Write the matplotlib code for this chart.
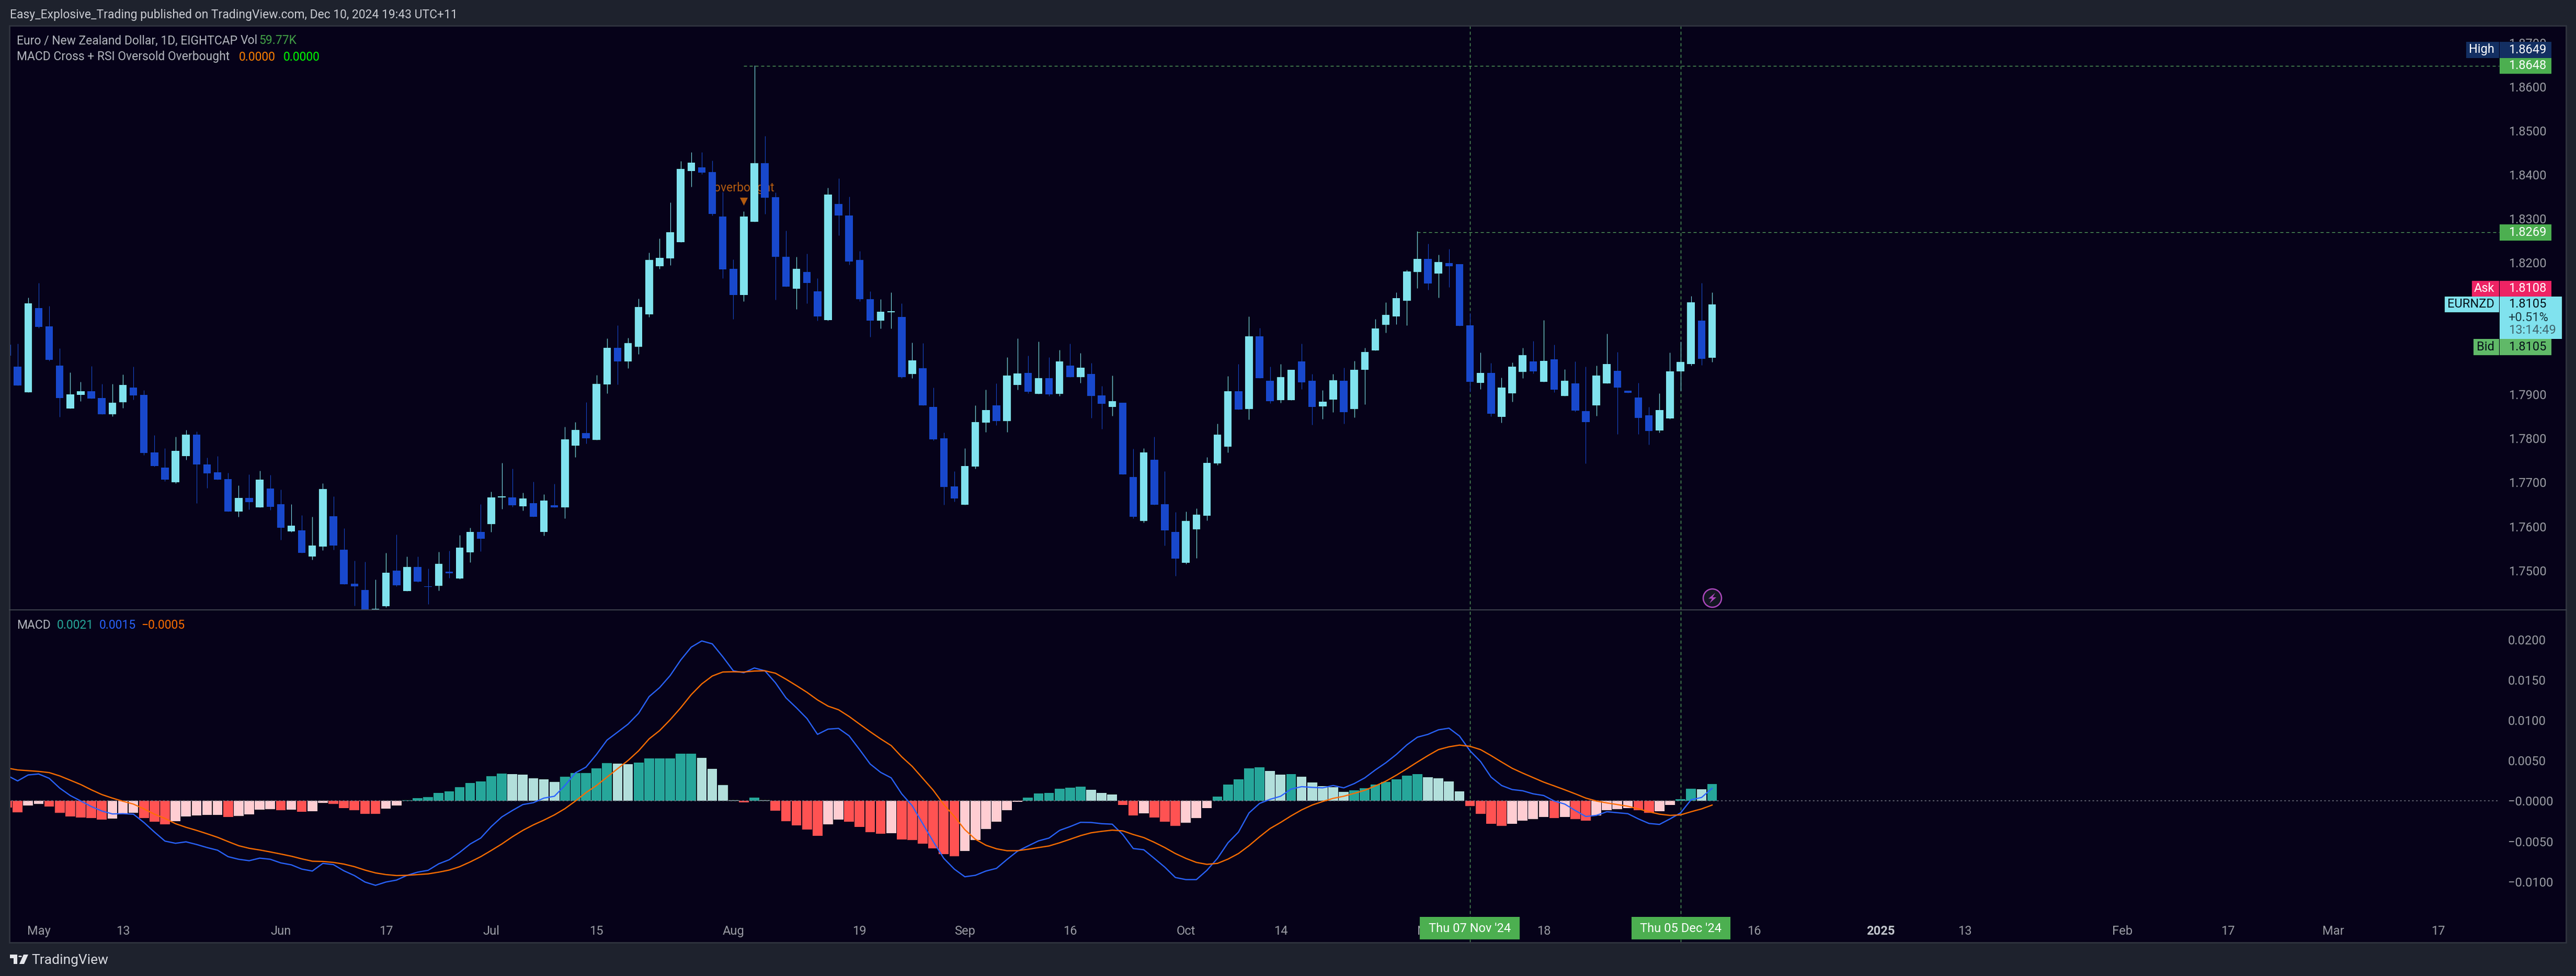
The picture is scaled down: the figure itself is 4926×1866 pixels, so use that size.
import matplotlib
matplotlib.use("Agg")
import matplotlib.pyplot as plt
import numpy as np
from matplotlib.patches import Rectangle, Polygon, Circle
from matplotlib.path import Path

plt.rcParams["font.family"] = ["Roboto", "DejaVu Sans"]

# daily EURNZD candles
opens = [
    1.8014, 1.7963, 1.7905, 1.8097, 1.8055, 1.7966, 1.7868, 1.7899, 1.7908, 1.7892,
    1.7855, 1.7883, 1.7916, 1.7899, 1.7769, 1.7734, 1.7700, 1.7760, 1.7809, 1.7741,
    1.7723, 1.7708, 1.7634, 1.7665, 1.7644, 1.7686, 1.7650, 1.7589, 1.7591, 1.7531,
    1.7554, 1.7623, 1.7547, 1.7470, 1.7456, 1.7405, 1.7418, 1.7500, 1.7453, 1.7508,
    1.7464, 1.7465, 1.7497, 1.7482, 1.7541, 1.7587, 1.7605, 1.7666, 1.7666, 1.7646,
    1.7653, 1.7587, 1.7648, 1.7644, 1.7784, 1.7812, 1.7797, 1.7923, 1.8006, 1.7976,
    1.8009, 1.8083, 1.8192, 1.8210, 1.8247, 1.8409, 1.8417, 1.8406, 1.8305, 1.8186,
    1.8127, 1.8293, 1.8427, 1.8349, 1.8213, 1.8141, 1.8179, 1.8135, 1.8070, 1.8334,
    1.8308, 1.8206, 1.8117, 1.8068, 1.8087, 1.8077, 1.7947, 1.7960, 1.7872, 1.7800,
    1.7691, 1.7649, 1.7736, 1.7836, 1.7876, 1.7840, 1.7922, 1.7949, 1.7902, 1.7937,
    1.7902, 1.7966, 1.7940, 1.7947, 1.7898, 1.7872, 1.7882, 1.7712, 1.7613, 1.7752,
    1.7651, 1.7587, 1.7517, 1.7593, 1.7625, 1.7744, 1.7782, 1.7908, 1.7867, 1.8033,
    1.7931, 1.7887, 1.7887, 1.7975, 1.7931, 1.7873, 1.7889, 1.7931, 1.7867, 1.7957,
    1.8001, 1.8059, 1.8078, 1.8114, 1.8179, 1.8209, 1.8176, 1.8199, 1.8197, 1.8058,
    1.7927, 1.7949, 1.7849, 1.7903, 1.7952, 1.7975, 1.7929, 1.7980, 1.7897, 1.7925,
    1.7862, 1.7875, 1.7925, 1.7954, 1.7909, 1.7893, 1.7853, 1.7818, 1.7846, 1.7953,
    1.7970, 1.8068, 1.7984,
]
closes = [
    1.7989, 1.7921, 1.8107, 1.8054, 1.7979, 1.7892, 1.7900, 1.7908, 1.7891, 1.7855,
    1.7882, 1.7922, 1.7898, 1.7767, 1.7738, 1.7706, 1.7772, 1.7809, 1.7741, 1.7721,
    1.7707, 1.7634, 1.7665, 1.7655, 1.7707, 1.7645, 1.7597, 1.7602, 1.7540, 1.7556,
    1.7685, 1.7557, 1.7468, 1.7464, 1.7405, 1.7412, 1.7495, 1.7466, 1.7508, 1.7475,
    1.7463, 1.7515, 1.7493, 1.7552, 1.7587, 1.7572, 1.7666, 1.7668, 1.7648, 1.7664,
    1.7622, 1.7659, 1.7644, 1.7798, 1.7819, 1.7801, 1.7924, 1.8006, 1.7976, 1.8017,
    1.8099, 1.8206, 1.8211, 1.8269, 1.8413, 1.8428, 1.8405, 1.8311, 1.8185, 1.8127,
    1.8305, 1.8427, 1.8348, 1.8213, 1.8146, 1.8186, 1.8154, 1.8078, 1.8355, 1.8307,
    1.8203, 1.8117, 1.8068, 1.8089, 1.8090, 1.7940, 1.7978, 1.7875, 1.7798, 1.7690,
    1.7664, 1.7738, 1.7838, 1.7865, 1.7840, 1.7943, 1.7948, 1.7907, 1.7937, 1.7901,
    1.7975, 1.7940, 1.7961, 1.7897, 1.7879, 1.7885, 1.7718, 1.7622, 1.7768, 1.7649,
    1.7591, 1.7527, 1.7613, 1.7627, 1.7745, 1.7809, 1.7908, 1.7866, 1.8033, 1.7937,
    1.7885, 1.7940, 1.7957, 1.7928, 1.7872, 1.7884, 1.7933, 1.7860, 1.7957, 1.7997,
    1.8050, 1.8081, 1.8120, 1.8180, 1.8209, 1.8153, 1.8202, 1.8192, 1.8056, 1.7929,
    1.7949, 1.7857, 1.7916, 1.7963, 1.7990, 1.7953, 1.7977, 1.7911, 1.7931, 1.7864,
    1.7838, 1.7943, 1.7969, 1.7916, 1.7904, 1.7847, 1.7817, 1.7865, 1.7953, 1.7974,
    1.8110, 1.7981, 1.8105,
]
highs = [
    1.8020, 1.8016, 1.8121, 1.8154, 1.8102, 1.8005, 1.7951, 1.7929, 1.7965, 1.7924,
    1.7924, 1.7946, 1.7963, 1.7910, 1.7808, 1.7778, 1.7804, 1.7820, 1.7816, 1.7756,
    1.7760, 1.7722, 1.7693, 1.7718, 1.7727, 1.7717, 1.7684, 1.7650, 1.7626, 1.7622,
    1.7698, 1.7668, 1.7596, 1.7522, 1.7520, 1.7479, 1.7540, 1.7582, 1.7532, 1.7532,
    1.7504, 1.7542, 1.7545, 1.7580, 1.7597, 1.7651, 1.7679, 1.7745, 1.7731, 1.7677,
    1.7702, 1.7673, 1.7697, 1.7827, 1.7837, 1.7883, 1.7945, 1.8028, 1.8058, 1.8029,
    1.8118, 1.8223, 1.8255, 1.8337, 1.8431, 1.8451, 1.8452, 1.8433, 1.8361, 1.8208,
    1.8317, 1.8649, 1.8488, 1.8360, 1.8273, 1.8213, 1.8221, 1.8165, 1.8371, 1.8392,
    1.8350, 1.8226, 1.8135, 1.8117, 1.8133, 1.8108, 1.8018, 1.8017, 1.7916, 1.7814,
    1.7726, 1.7778, 1.7875, 1.7911, 1.7925, 1.7985, 1.8028, 1.7989, 1.8021, 1.7985,
    1.8002, 1.8016, 1.7994, 1.7972, 1.7920, 1.7943, 1.7882, 1.7777, 1.7778, 1.7804,
    1.7725, 1.7633, 1.7634, 1.7641, 1.7758, 1.7834, 1.7942, 1.7969, 1.8078, 1.8052,
    1.7963, 1.7969, 1.7957, 1.8016, 1.7947, 1.7910, 1.7947, 1.7961, 1.7977, 1.8007,
    1.8072, 1.8110, 1.8132, 1.8184, 1.8272, 1.8243, 1.8218, 1.8231, 1.8197, 1.8085,
    1.7996, 1.7972, 1.7939, 1.7973, 1.8007, 1.8022, 1.8070, 1.8014, 1.7958, 1.7975,
    1.7963, 1.7966, 1.8039, 1.7997, 1.7909, 1.7927, 1.7872, 1.7903, 1.7996, 1.8021,
    1.8124, 1.8154, 1.8133,
]
lows = [
    1.7985, 1.7921, 1.7905, 1.8052, 1.7977, 1.7849, 1.7868, 1.7885, 1.7891, 1.7855,
    1.7851, 1.7869, 1.7889, 1.7763, 1.7736, 1.7703, 1.7698, 1.7752, 1.7653, 1.7687,
    1.7707, 1.7634, 1.7622, 1.7639, 1.7644, 1.7638, 1.7570, 1.7587, 1.7540, 1.7524,
    1.7546, 1.7547, 1.7468, 1.7420, 1.7405, 1.7400, 1.7416, 1.7464, 1.7453, 1.7473,
    1.7423, 1.7454, 1.7483, 1.7481, 1.7519, 1.7544, 1.7588, 1.7640, 1.7645, 1.7636,
    1.7622, 1.7579, 1.7644, 1.7619, 1.7758, 1.7789, 1.7797, 1.7903, 1.7923, 1.7960,
    1.7992, 1.8077, 1.8186, 1.8195, 1.8247, 1.8373, 1.8402, 1.8308, 1.8165, 1.8072,
    1.8112, 1.8293, 1.8311, 1.8116, 1.8146, 1.8094, 1.8108, 1.8068, 1.8068, 1.8262,
    1.8196, 1.8112, 1.8031, 1.8050, 1.8051, 1.7937, 1.7937, 1.7875, 1.7796, 1.7649,
    1.7657, 1.7649, 1.7732, 1.7815, 1.7830, 1.7815, 1.7911, 1.7903, 1.7902, 1.7897,
    1.7897, 1.7940, 1.7927, 1.7847, 1.7822, 1.7852, 1.7718, 1.7618, 1.7609, 1.7649,
    1.7557, 1.7487, 1.7515, 1.7528, 1.7614, 1.7740, 1.7769, 1.7866, 1.7843, 1.7937,
    1.7880, 1.7881, 1.7887, 1.7913, 1.7832, 1.7844, 1.7860, 1.7834, 1.7848, 1.7878,
    1.8000, 1.8041, 1.8060, 1.8058, 1.8142, 1.8138, 1.8121, 1.8144, 1.8056, 1.7907,
    1.7913, 1.7850, 1.7836, 1.7884, 1.7937, 1.7948, 1.7929, 1.7905, 1.7897, 1.7861,
    1.7744, 1.7852, 1.7925, 1.7810, 1.7904, 1.7810, 1.7786, 1.7814, 1.7844, 1.7909,
    1.7966, 1.7967, 1.7974,
]

# MACD pane, all three series in units of 1e-5
hist = [
    -80, -142, -56, -38, -68, -148, -192, -204, -213, -231,
    -219, -157, -148, -213, -258, -290, -252, -192, -181, -172,
    -169, -198, -184, -163, -110, -101, -115, -110, -133, -127,
    -24, -38, -89, -115, -160, -160, -95, -56, 9, 36,
    47, 98, 118, 172, 222, 243, 308, 341, 332, 326,
    281, 266, 234, 299, 346, 346, 403, 468, 462, 456,
    474, 527, 527, 527, 586, 586, 533, 397, 195, 9,
    -18, 41, 9, -121, -252, -302, -355, -432, -290, -231,
    -258, -323, -388, -406, -400, -477, -486, -530, -589, -660,
    -687, -622, -486, -349, -258, -115, -9, 41, 92, 98,
    151, 163, 178, 139, 98, 80, -50, -181, -154, -204,
    -258, -308, -269, -213, -89, 53, 204, 266, 403, 418,
    370, 326, 332, 299, 228, 187, 172, 113, 130, 157,
    204, 234, 266, 314, 332, 293, 281, 243, 118, -62,
    -160, -284, -308, -284, -246, -225, -198, -213, -198, -225,
    -246, -181, -115, -101, -89, -115, -148, -127, -50, 21,
    151, 145, 210,
]
# S strong red, L light red, T teal, M light teal
hist_kind = (
    "SSLLSSSSSS" "LLLSSSLLLL" "LSLLLLSLSL" "LSSSSSLLTT" "TTTTTTTTMM"
    "MMMTTTTTMM" "TTTTTTMMMM" "STMSSSSSLL" "SSSSLSSSSS" "SLLLLLLTTT"
    "TTTMMMSSLS" "SSLLLTTTTT" "MMTMMMMMTT" "TTTTTMMMMS" "SSSLLLLSLS"
    "SLLLLSSLLT" "TMT"
)
macd_line = [
    317, 249, 323, 335, 281, 160, 68, 0, -68, -124,
    -160, -157, -163, -266, -385, -497, -524, -506, -539, -577,
    -610, -690, -722, -740, -708, -722, -767, -791, -844, -868,
    -773, -788, -865, -924, -1004, -1045, -1004, -980, -921, -882,
    -859, -779, -728, -637, -533, -459, -317, -198, -118, -44,
    -21, 36, 59, 192, 349, 420, 577, 755, 853, 953,
    1087, 1294, 1406, 1555, 1747, 1907, 1984, 1948, 1788, 1614,
    1590, 1649, 1614, 1466, 1279, 1155, 1022, 826, 891, 900,
    808, 637, 459, 355, 287, 89, -59, -281, -503, -711,
    -844, -939, -921, -868, -835, -725, -622, -557, -494, -459,
    -364, -317, -264, -266, -281, -287, -415, -589, -604, -711,
    -820, -948, -974, -974, -859, -711, -518, -385, -148, -30,
    21, 59, 148, 178, 169, 163, 192, 163, 216, 287,
    385, 474, 577, 696, 791, 826, 882, 903, 805, 622,
    489, 296, 192, 142, 127, 89, 68, 0, -38, -118,
    -192, -178, -133, -145, -157, -222, -278, -290, -222, -148,
    15, 44, 157,
]
signal_line = [
    409, 385, 376, 367, 352, 311, 258, 204, 139, 80,
    36, -3, -38, -98, -163, -216, -281, -326, -364, -406,
    -450, -503, -554, -586, -607, -631, -657, -684, -717, -746,
    -749, -761, -782, -814, -856, -891, -912, -924, -921, -912,
    -903, -882, -856, -814, -755, -690, -613, -533, -444, -364,
    -296, -237, -172, -95, 0, 104, 192, 296, 400, 503,
    622, 770, 873, 1007, 1155, 1318, 1451, 1549, 1599, 1602,
    1599, 1611, 1614, 1584, 1510, 1430, 1347, 1253, 1176, 1131,
    1048, 953, 859, 770, 687, 548, 429, 281, 133, -44,
    -192, -355, -474, -548, -592, -616, -616, -598, -577, -557,
    -518, -474, -429, -394, -376, -361, -370, -415, -453, -512,
    -577, -651, -711, -761, -785, -773, -720, -651, -554, -444,
    -341, -266, -184, -110, -50, -6, 33, 59, 95, 133,
    187, 246, 320, 400, 483, 563, 637, 672, 693, 678,
    637, 563, 483, 406, 346, 290, 234, 187, 139, 89,
    36, 0, -24, -44, -65, -98, -133, -163, -178, -172,
    -133, -98, -50,
]

# 1.80 and 1.81 are fully under the Bid / EURNZD tags, so they are left out
price_ticks = [1.75, 1.76, 1.77, 1.78, 1.79, 1.82, 1.83, 1.84, 1.85, 1.86, 1.87]
macd_ticks = [0.02, 0.015, 0.01, 0.005, 0.0, -0.005, -0.01]
macd_tick_labels = ["0.0200", "0.0150", "0.0100", "0.0050", "\u22120.0000", "\u22120.0050", "\u22120.0100"]
time_ticks = [3, 11, 26, 36, 46, 56, 69, 81, 91, 101, 112, 121, 135, 146, 166, 178, 186, 201, 211, 221, 231]
time_labels = ["May", "13", "Jun", "17", "Jul", "15", "Aug", "19", "Sep", "16", "Oct", "14", "Nov", "18",
               "16", "2025", "13", "Feb", "17", "Mar", "17"]
high_level = 1.8648
swing_level = 1.8269
cross_bars = [139, 159]

BG = "#1e222d"
PANE = "#060219"
UP = "#80e2ee"
DOWN = "#1848cc"
GREEN = "#4caf50"
DASH_GREEN = "#5cab62"
TXT = "#b2b5be"
AXIS_TXT = "#9a9ba4"
KIND_COLORS = {"S": "#ff5252", "L": "#ffcdd2", "T": "#26a69a", "M": "#b2dfdb"}

W, H = 4926, 1866
fig = plt.figure(figsize=(W / 100, H / 100), dpi=100, facecolor=BG)


def fx(x):
    return x / W


def fy(y):
    return 1 - y / H


def pane(left, top, right, bottom):
    ax = fig.add_axes([fx(left), fy(bottom), fx(right - left), (bottom - top) / H], facecolor=PANE)
    for s in ax.spines.values():
        s.set_visible(False)
    return ax


def label(x, y, s, color=TXT, size=16.5, ha="left", **kw):
    fig.text(fx(x), fy(y), s, color=color, fontsize=size, ha=ha, va="center", **kw)


def tag(x0, y0, x1, y1, color):
    fig.add_artist(Rectangle((fx(x0), fy(y1)), fx(x1 - x0), (y1 - y0) / H, transform=fig.transFigure,
                             facecolor=color, edgecolor="none", zorder=2))


ax = pane(18, 49, 4907, 1166)
ax2 = pane(18, 1166, 4907, 1802)

x = np.arange(len(opens))
o, c, hi, lo = map(np.array, (opens, closes, highs, lows))
candle_colors = [UP if b >= a else DOWN for a, b in zip(o, c)]

# overbought marker sits behind the candles
ax.text(70, 1.83694, "overbought", color="#b25a10", fontsize=16.5, ha="center", va="center", zorder=1)
ax.scatter([70], [1.83396], marker="v", s=120, color="#b25a10", linewidths=0, zorder=1)

ax.vlines(x, lo, hi, colors=candle_colors, linewidth=0.8, zorder=2)
ax.bar(x, np.maximum(np.abs(c - o), 0.00012), bottom=np.minimum(o, c), width=0.72, color=candle_colors, zorder=3)

idx_end = 236.8
dash = (0, (4.8, 4))
ax.hlines(high_level, 70, idx_end, colors=DASH_GREEN, linewidth=0.9, linestyles=dash, zorder=1)
ax.hlines(swing_level, 134, idx_end, colors=DASH_GREEN, linewidth=0.9, linestyles=dash, zorder=1)
for a in (ax, ax2):
    for bar_i in cross_bars:
        a.axvline(bar_i, color=DASH_GREEN, linewidth=0.9, linestyle=dash, zorder=1)

# lightning badge above the last bar
badge_x, badge_y = 162, 1.74376
ax.scatter([badge_x], [badge_y], marker="o", s=635, facecolor="#131722", edgecolor="#ab47bc", linewidths=1.8, zorder=4)
bolt = Path([(0.55, 1), (-0.75, -0.1), (-0.05, -0.1), (-0.55, -1), (0.75, 0.15), (0.05, 0.15), (0.55, 1)], closed=True)
ax.scatter([badge_x], [badge_y], marker=bolt, s=210, color="#ab47bc", linewidths=0, zorder=5)

ax.set_xlim(0.2186, 243.14)
ax.set_ylim(1.74102, 1.87395)
ax.set_xticks([])
ax.yaxis.tick_right()
ax.set_yticks(price_ticks)
ax.set_yticklabels([f"{p:.4f}" for p in price_ticks])
ax.tick_params(axis="y", length=0, pad=-78.8, labelsize=17, labelcolor=AXIS_TXT)

# MACD pane
ax2.bar(x, np.array(hist) * 1e-5, width=0.93, color=[KIND_COLORS[k] for k in hist_kind], zorder=2)
ax2.hlines(0, 0, idx_end, colors="#787b86", linewidth=1.1, linestyles=(0, (2, 3)), zorder=3)
ax2.plot(x, np.array(macd_line) * 1e-5, color="#2962ff", linewidth=1.7, zorder=4)
ax2.plot(x, np.array(signal_line) * 1e-5, color="#ff6d00", linewidth=1.7, zorder=5)

ax2.set_xlim(0.2186, 243.14)
ax2.set_ylim(-0.01754, 0.02369)
ax2.yaxis.tick_right()
ax2.set_yticks(macd_ticks)
ax2.set_yticklabels(macd_tick_labels)
ax2.tick_params(axis="y", length=0, pad=-80, labelsize=17, labelcolor=AXIS_TXT)
ax2.set_xticks(time_ticks)
ax2.set_xticklabels(time_labels)
ax2.tick_params(axis="x", length=0, pad=-15.8, labelsize=17, labelcolor=AXIS_TXT)
for t, s in zip(ax2.get_xticklabels(), time_labels):
    t.set_va("center")
    if s == "2025":
        t.set_fontweight("bold")
        t.set_color("#c3c6ce")

# pane frame and divider
fig.add_artist(Rectangle((fx(18), fy(1802)), fx(4907 - 18), (1802 - 49) / H, transform=fig.transFigure,
                         facecolor="none", edgecolor="#2f333e", linewidth=2, zorder=1))
fig.add_artist(plt.Line2D([fx(18), fx(4907)], [fy(1166), fy(1166)], color="#3f424d", linewidth=1.4, zorder=1))

# header and legends
label(19, 29, "Easy_Explosive_Trading published on TradingView.com, Dec 10, 2024 19:43 UTC+11", color="#c8cad1")
label(32, 78, "Euro / New Zealand Dollar, 1D, EIGHTCAP")
label(493, 78, "Vol", ha="right")
label(495, 78, "59.77K", color="#43a047")
label(32, 109, "MACD Cross + RSI Oversold Overbought")
label(457, 109, "0.0000", color="#ff7f00")
label(542, 109, "0.0000", color="#00ff00")
label(32, 1196, "MACD")
label(109, 1196, "0.0021", color="#26a69a")
label(190, 1196, "0.0015", color="#2962ff")
label(270, 1196, "\u22120.0005", color="#ff6d00")

# price scale tags
tag(4716, 80, 4779, 111, "#132f62")
tag(4780, 80, 4879, 111, "#132f62")
label(4770, 95, "High", color="#ffffff", size=17, ha="right")
label(4797, 95, "1.8649", color="#ffffff", size=17)
tag(4780, 111, 4879, 141, GREEN)
label(4797, 125, "1.8648", color="#ffffff", size=17)
tag(4780, 429, 4879, 460, GREEN)
label(4797, 444, "1.8269", color="#ffffff", size=17)
tag(4727, 537, 4779, 567, "#ee2364")
tag(4780, 537, 4879, 567, "#ee2364")
label(4770, 552, "Ask", color="#ffffff", size=17, ha="right")
label(4797, 552, "1.8108", color="#ffffff", size=17)
tag(4675, 567, 4779, 597, UP)
tag(4780, 567, 4899, 648, UP)
label(4770, 582, "EURNZD", color="#06121a", size=17, ha="right")
label(4797, 582, "1.8105", color="#06121a", size=17)
label(4796, 607, "+0.51%", color="#1c3a42", size=17)
label(4797, 632, "13:14:49", color="#41666e", size=17)
tag(4730, 648, 4779, 679, "#60b968")
tag(4780, 648, 4879, 679, "#60b968")
label(4770, 663, "Bid", color="#06121a", size=17, ha="right")
label(4797, 663, "1.8105", color="#06121a", size=17)

# crosshair date tags
tag(2715, 1753, 2906, 1796, GREEN)
label(2811, 1775, "Thu 07 Nov '24", color="#ffffff", size=17, ha="center")
tag(3120, 1753, 3309, 1796, GREEN)
label(3214, 1775, "Thu 05 Dec '24", color="#ffffff", size=17, ha="center")

# TradingView logo
logo = [[(19, 1825), (33, 1825), (33, 1843), (26, 1843), (26, 1832), (19, 1832)],
        [(45, 1825), (54, 1825), (46, 1843), (37, 1843)]]
for pts in logo:
    fig.add_artist(Polygon([(fx(a), fy(b)) for a, b in pts], transform=fig.transFigure, facecolor="#e4e5ea",
                           edgecolor="none", zorder=2))
fig.add_artist(Circle((fx(38.5), fy(1828.5)), 3.5 / W, transform=fig.transFigure, facecolor="#e4e5ea",
                      edgecolor="none", zorder=2))
label(60, 1836, "TradingView", color="#d8dae0", size=19)

fig.savefig("out.png", dpi=100, facecolor=BG)
